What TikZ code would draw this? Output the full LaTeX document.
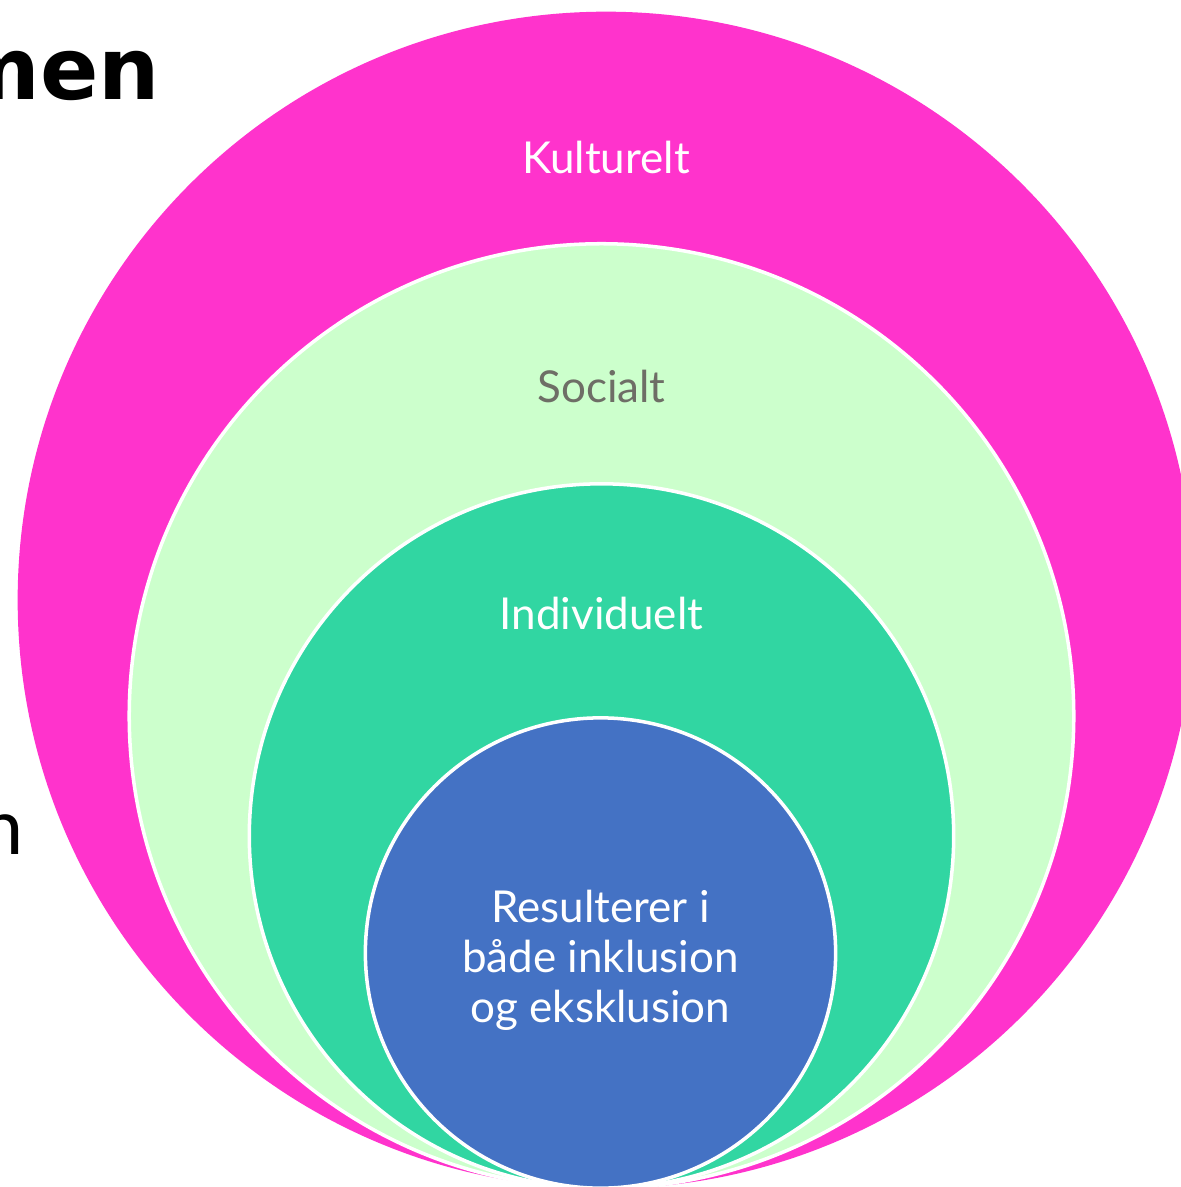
\documentclass[tikz,border=0pt]{standalone}
\usepackage{fontspec}
\setmainfont{Lato}
\newfontfamily\headfont{DejaVu Sans}
\usetikzlibrary{positioning}

\definecolor{kultpink}{HTML}{FF33CC}
\definecolor{socgreen}{HTML}{CCFFCC}
\definecolor{indteal}{HTML}{31D6A2}
\definecolor{resblue}{HTML}{4472C4}
\definecolor{socgray}{HTML}{6E6E66}

\begin{document}
\begin{tikzpicture}[x=0.01cm, y=-0.01cm]
        \useasboundingbox (0,0) rectangle (1181,1187);
        \clip (0,0) rectangle (1181,1187);

        %-----Slide text-----

        % Heading fragment
        \node[anchor=base east, inner sep=0pt, font=\headfont\bfseries\fontsize{24.5}{28}\selectfont] (head) at (161,99) {men};

        % Body text fragment
        \node[anchor=base east, inner sep=0pt, font=\fontsize{22}{26}\selectfont] (body) at (24,854) {n};

        %-----Circles-----

        % Kulturelt Circle
        \node[circle, fill=kultpink, inner sep=0pt, minimum size=11.76cm] (kult) at (606,600) {};

        % Socialt Circle
        \node[circle, fill=socgreen, draw=white, line width=1pt, inner sep=0pt, minimum size=9.44cm] (soc) at (601.5,716) {};

        % Individuelt Circle
        \node[circle, fill=indteal, draw=white, line width=1pt, inner sep=0pt, minimum size=7.04cm] (ind) at (601.5,836) {};

        % Resulterer Circle
        \node[circle, fill=resblue, draw=white, line width=1pt, inner sep=0pt, minimum size=4.70cm] (res) at (600.5,953) {};

        %-----Labels-----

        % Kulturelt Label
        \node[below=1.18cm of kult.north, white, font=\fontsize{12.5}{15}\selectfont] (kultlbl) {Kulturelt};

        % Socialt Label
        \node[below=1.16cm of soc.north, text=socgray, font=\fontsize{12.5}{15}\selectfont] (soclbl) {Socialt};

        % Individuelt Label
        \node[below=1.03cm of ind.north, white, font=\fontsize{12.5}{15}\selectfont] (indlbl) {Individuelt};

        % Resulterer Label
        \node[white, align=center, font=\fontsize{12.5}{14.2}\selectfont, yshift=-0.07cm] (reslbl) at (res.center) {Resulterer i\\både inklusion\\og eksklusion};

    \end{tikzpicture}
\end{document}
